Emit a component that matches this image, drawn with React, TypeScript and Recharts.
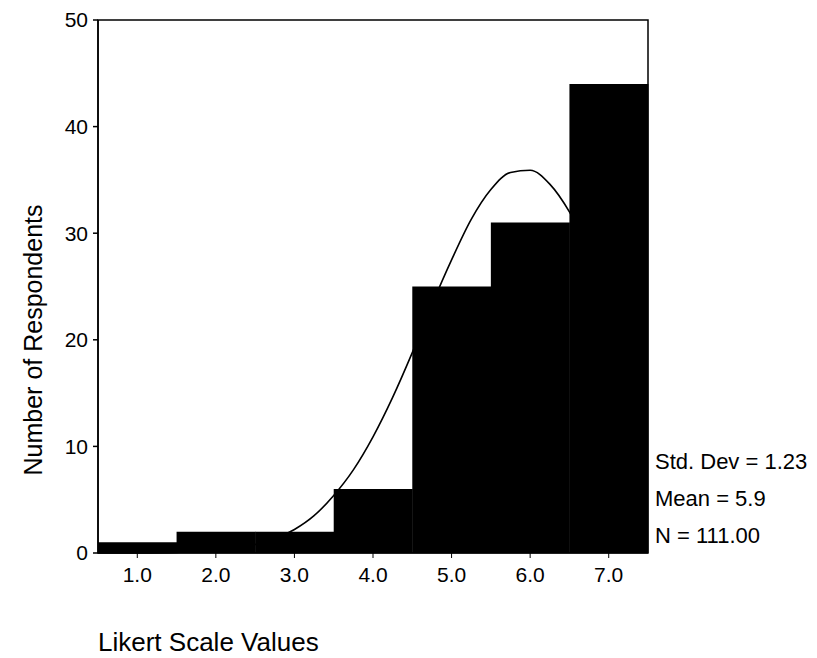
import { ComposedChart, Bar, Line, XAxis, YAxis, ReferenceArea } from 'recharts';

const bins = ['1.0', '2.0', '3.0', '4.0', '5.0', '6.0', '7.0'];
const counts = [1, 2, 2, 6, 25, 31, 44];

// fitted normal curve
const curveX = [0.5, 1, 1.5, 2, 2.5, 3, 3.25, 3.5, 3.75, 4, 4.25, 4.5, 4.75, 5, 5.25, 5.5, 5.75, 6, 6.25, 6.5, 6.75, 7, 7.25, 7.5];
const curveY = [0, 0.01, 0.06, 0.23, 0.8, 2.2, 3.5, 5.4, 7.8, 10.9, 14.6, 18.8, 23.3, 27.5, 31.3, 34.1, 35.7, 35.9, 34.6, 32, 28.4, 24.1, 19.7, 15.4];

const xTicks = [1, 2, 3, 4, 5, 6, 7];
const yTicks = [0, 10, 20, 30, 40, 50];
const stats = ['Std. Dev = 1.23', 'Mean = 5.9', 'N = 111.00'];

const font = '"Liberation Sans", Arial, sans-serif';

export default function App() {
  const barData = bins.map((b, i) => ({ bin: b, count: counts[i] }));
  const curve = curveX.map((x, i) => ({ x, y: curveY[i] }));

  return (
    <div style={{ position: 'absolute', left: 0, top: 0, width: 817, height: 658, background: '#fff' }}>
      <ComposedChart
        width={817}
        height={658}
        data={barData}
        barCategoryGap={0}
        margin={{ top: 20, right: 169, left: 38, bottom: 75 }}
      >
        <XAxis xAxisId="cat" dataKey="bin" hide height={0} />
        <XAxis
          xAxisId="num"
          dataKey="x"
          type="number"
          domain={[0.5, 7.5]}
          ticks={xTicks}
          allowDataOverflow
          tickFormatter={(v: number) => v.toFixed(1)}
          stroke="#000"
          tickSize={5}
          tickMargin={9}
          tick={{ fill: '#000', fontSize: 21, fontFamily: font }}
          height={30}
        />
        <YAxis
          domain={[0, 50]}
          ticks={yTicks}
          stroke="#000"
          strokeWidth={1.5}
          tickSize={5}
          tickMargin={5}
          width={60}
          tick={{ fill: '#000', fontSize: 21, fontFamily: font }}
        />
        <ReferenceArea
          xAxisId="num"
          x1={0.5}
          x2={7.5}
          y1={0}
          y2={50}
          fill="none"
          stroke="#000"
          strokeWidth={1.5}
          ifOverflow="visible"
        />
        <Bar xAxisId="cat" dataKey="count" fill="#000" isAnimationActive={false} />
        <Line
          xAxisId="num"
          data={curve}
          dataKey="y"
          type="monotone"
          stroke="#000"
          strokeWidth={1.6}
          dot={false}
          isAnimationActive={false}
        />
      </ComposedChart>
      <svg width={817} height={658} style={{ position: 'absolute', left: 0, top: 0, pointerEvents: 'none' }}>
        <text
          x={0}
          y={0}
          transform="translate(42, 340) rotate(-90)"
          textAnchor="middle"
          fontSize={25}
          fontFamily={font}
          fill="#000"
        >
          Number of Respondents
        </text>
        <text x={98} y={651} fontSize={26} fontFamily={font} fill="#000">
          Likert Scale Values
        </text>
        {stats.map((s, i) => (
          <text key={s} x={655} y={469 + i * 37} fontSize={22} fontFamily={font} fill="#000">
            {s}
          </text>
        ))}
      </svg>
    </div>
  );
}
